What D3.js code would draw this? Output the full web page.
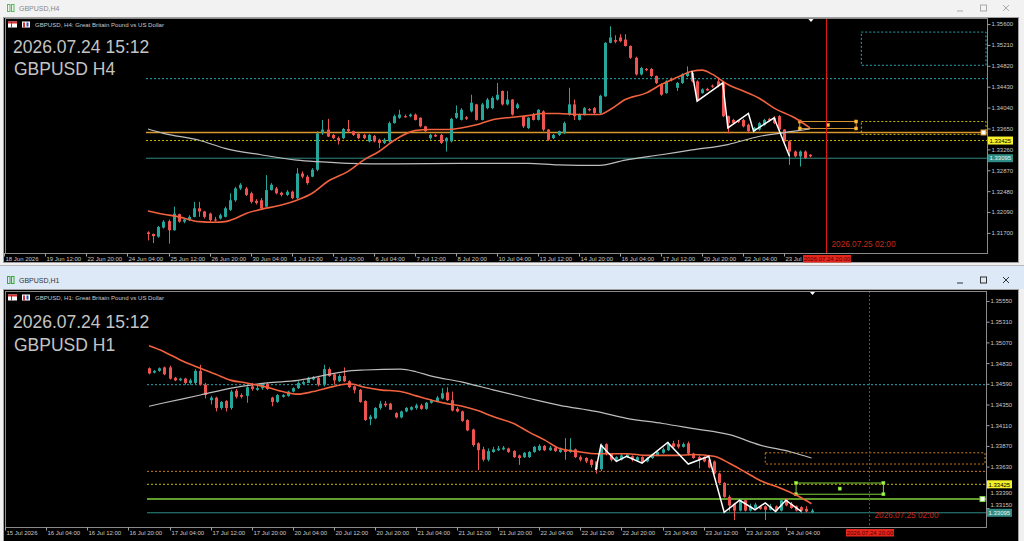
<!DOCTYPE html>
<html>
<head>
<meta charset="utf-8">
<script src="https://cdn.jsdelivr.net/npm/d3@7"></script>
<style>
  body { margin: 0; background: #f0f0f0; overflow: hidden; }
  svg { display: block; }
</style>
</head>
<body>
<svg id="chart" width="1024" height="541"></svg>
<script>
// ---------- H4 chart (upper window) ----------
var h4Open = [1.3171,1.3168,1.3163,1.3180,1.3192,1.3175,1.3205,1.3191,1.3194,1.3200,
  1.3216,1.3210,1.3206,1.3195,1.3197,1.3200,1.3213,1.3231,1.3253,1.3253,
  1.3244,1.3230,1.3231,1.3219,1.3250,1.3253,1.3245,1.3241,1.3247,1.3235,
  1.3281,1.3275,1.3275,1.3288,1.3356,1.3363,1.3353,1.3347,1.3347,1.3364,
  1.3360,1.3355,1.3353,1.3341,1.3351,1.3344,1.3338,1.3341,1.3375,1.3385,
  1.3388,1.3388,1.3391,1.3385,1.3369,1.3347,1.3353,1.3353,1.3341,1.3341,
  1.3385,1.3381,1.3386,1.3397,1.3410,1.3381,1.3403,1.3403,1.3419,1.3435,
  1.3410,1.3419,1.3403,1.3388,1.3366,1.3391,1.3381,1.3397,1.3363,1.3347,
  1.3353,1.3356,1.3391,1.3410,1.3381,1.3391,1.3401,1.3403,1.3394,1.3425,
  1.3525,1.3530,1.3535,1.3531,1.3519,1.3497,1.3466,1.3476,1.3476,1.3463,
  1.3447,1.3431,1.3458,1.3441,1.3450,1.3463,1.3469,1.3453,1.3431,1.3439,
  1.3445,1.3453,1.3450,1.3388,1.3381,1.3380,1.3381,1.3372,1.3360,1.3363,
  1.3372,1.3383,1.3385,1.3388,1.3363,1.3341,1.3322,1.3313,1.3322,1.3316];
var h4High = [1.3173,1.3169,1.3183,1.3194,1.3195,1.3219,1.3206,1.3197,1.3203,1.3228,
  1.3228,1.3211,1.3208,1.3200,1.3206,1.3219,1.3244,1.3256,1.3263,1.3256,
  1.3247,1.3233,1.3235,1.3278,1.3263,1.3256,1.3247,1.3250,1.3249,1.3291,
  1.3285,1.3278,1.3291,1.3360,1.3381,1.3383,1.3355,1.3350,1.3366,1.3381,
  1.3361,1.3356,1.3355,1.3355,1.3353,1.3346,1.3347,1.3378,1.3391,1.3400,
  1.3391,1.3393,1.3393,1.3386,1.3370,1.3355,1.3355,1.3355,1.3349,1.3385,
  1.3408,1.3403,1.3388,1.3428,1.3411,1.3413,1.3422,1.3425,1.3450,1.3436,
  1.3435,1.3420,1.3413,1.3389,1.3386,1.3394,1.3401,1.3399,1.3364,1.3355,
  1.3361,1.3378,1.3441,1.3419,1.3393,1.3405,1.3403,1.3405,1.3428,1.3526,
  1.3556,1.3539,1.3541,1.3541,1.3520,1.3499,1.3480,1.3478,1.3478,1.3464,
  1.3449,1.3455,1.3460,1.3452,1.3468,1.3481,1.3472,1.3455,1.3440,1.3441,
  1.3447,1.3460,1.3452,1.3389,1.3383,1.3381,1.3383,1.3374,1.3368,1.3377,
  1.3383,1.3385,1.3388,1.3390,1.3364,1.3343,1.3324,1.3324,1.3324,1.3317];
var h4Low = [1.3156,1.3151,1.3161,1.3178,1.3150,1.3174,1.3189,1.3188,1.3192,1.3199,
  1.3200,1.3197,1.3191,1.3191,1.3195,1.3199,1.3211,1.3228,1.3250,1.3239,
  1.3225,1.3223,1.3213,1.3218,1.3249,1.3242,1.3238,1.3239,1.3233,1.3233,
  1.3272,1.3260,1.3274,1.3285,1.3353,1.3349,1.3345,1.3335,1.3345,1.3358,
  1.3351,1.3345,1.3345,1.3339,1.3339,1.3328,1.3336,1.3339,1.3374,1.3383,
  1.3385,1.3386,1.3380,1.3367,1.3356,1.3344,1.3349,1.3336,1.3322,1.3339,
  1.3383,1.3380,1.3381,1.3395,1.3380,1.3380,1.3401,1.3401,1.3417,1.3408,
  1.3408,1.3389,1.3401,1.3366,1.3364,1.3380,1.3380,1.3360,1.3342,1.3345,
  1.3351,1.3355,1.3389,1.3381,1.3380,1.3389,1.3397,1.3392,1.3392,1.3424,
  1.3524,1.3524,1.3526,1.3518,1.3495,1.3464,1.3464,1.3472,1.3461,1.3448,
  1.3426,1.3430,1.3453,1.3435,1.3448,1.3461,1.3451,1.3417,1.3430,1.3435,
  1.3441,1.3442,1.3386,1.3356,1.3373,1.3375,1.3367,1.3358,1.3358,1.3361,
  1.3370,1.3378,1.3373,1.3361,1.3339,1.3297,1.3311,1.3294,1.3308,1.3311];
var h4Close = [1.3168,1.3164,1.3181,1.3191,1.3175,1.3206,1.3191,1.3195,1.3200,1.3216,
  1.3210,1.3200,1.3194,1.3194,1.3203,1.3216,1.3231,1.3253,1.3260,1.3241,
  1.3228,1.3226,1.3216,1.3250,1.3260,1.3244,1.3241,1.3247,1.3235,1.3281,
  1.3275,1.3263,1.3288,1.3356,1.3363,1.3350,1.3347,1.3343,1.3364,1.3360,
  1.3353,1.3347,1.3347,1.3353,1.3341,1.3338,1.3344,1.3375,1.3388,1.3391,
  1.3386,1.3391,1.3381,1.3369,1.3360,1.3353,1.3350,1.3338,1.3347,1.3383,
  1.3394,1.3400,1.3383,1.3413,1.3381,1.3410,1.3419,1.3422,1.3428,1.3410,
  1.3419,1.3391,1.3410,1.3369,1.3385,1.3381,1.3400,1.3363,1.3344,1.3353,
  1.3360,1.3375,1.3410,1.3388,1.3391,1.3403,1.3399,1.3394,1.3426,1.3525,
  1.3535,1.3527,1.3528,1.3519,1.3497,1.3466,1.3478,1.3474,1.3463,1.3450,
  1.3428,1.3453,1.3455,1.3450,1.3466,1.3469,1.3453,1.3419,1.3438,1.3436,
  1.3443,1.3444,1.3388,1.3375,1.3375,1.3377,1.3369,1.3360,1.3366,1.3375,
  1.3381,1.3380,1.3375,1.3363,1.3341,1.3322,1.3313,1.3322,1.3310,1.3313];

// moving averages read at a few bars
var h4FastMaBars = [0,3,6,10,13,15,17,19,22,26,29,32,35,39,42,45,48,52,55,58,61,64,67,71,74,77,80,84,88,90,93,97,100,103,106,108,110,113,116,119,122,126,129];
var h4FastMa = [1.3211,1.3205,1.3200,1.3191,1.3190,1.3191,1.3197,1.3206,1.3214,1.3222,
  1.3231,1.3244,1.3266,1.3285,1.3306,1.3322,1.3343,1.3361,1.3363,1.3363,
  1.3366,1.3372,1.3381,1.3386,1.3389,1.3393,1.3393,1.3391,1.3391,1.3400,
  1.3419,1.3431,1.3447,1.3460,1.3472,1.3474,1.3466,1.3447,1.3435,1.3422,
  1.3403,1.3385,1.3366];
var h4SlowMaBars = [0,3,10,15,22,29,33,39,48,61,74,80,88,93,100,106,113,119,126,129];
var h4SlowMa = [1.3364,1.3356,1.3343,1.3328,1.3316,1.3306,1.3303,1.3300,1.3299,1.3300,
  1.3300,1.3297,1.3296,1.3306,1.3316,1.3325,1.3335,1.3350,1.3360,1.3364];
var h4ZigBars = [106,107,112,113,117,118,122,125];
var h4Zig = [1.3472,1.3416,1.3450,1.3366,1.3393,1.3360,1.3385,1.3313];

var h4PriceTicks = [1.35600,1.35210,1.34820,1.34430,1.34040,1.33650,1.33260,1.32870,1.32480,1.32090,1.31700];
var h4TimeLabels = ["18 Jun 2026","19 Jun 12:00","22 Jun 20:00","24 Jun 04:00","25 Jun 12:00","26 Jun 20:00",
  "30 Jun 04:00","1 Jul 12:00","2 Jul 20:00","6 Jul 04:00","7 Jul 12:00","8 Jul 20:00","10 Jul 04:00",
  "13 Jul 12:00","14 Jul 20:00","16 Jul 04:00","17 Jul 12:00","20 Jul 20:00","22 Jul 04:00","23 Jul 12:00"];

// ---------- H1 chart (lower window) ----------
var h1Open = [1.3477,1.3472,1.3474,1.3478,1.3478,1.3466,1.3463,1.3465,1.3460,1.3460,
  1.3474,1.3458,1.3440,1.3443,1.3431,1.3439,1.3431,1.3451,1.3446,1.3445,
  1.3456,1.3452,1.3454,1.3459,1.3443,1.3438,1.3444,1.3445,1.3450,1.3454,
  1.3459,1.3460,1.3464,1.3466,1.3458,1.3476,1.3470,1.3462,1.3468,1.3462,
  1.3456,1.3452,1.3439,1.3418,1.3419,1.3431,1.3436,1.3436,1.3425,1.3420,
  1.3427,1.3429,1.3431,1.3434,1.3430,1.3437,1.3439,1.3442,1.3449,1.3440,
  1.3430,1.3427,1.3417,1.3406,1.3390,1.3383,1.3371,1.3380,1.3382,1.3383,
  1.3384,1.3381,1.3376,1.3374,1.3374,1.3380,1.3382,1.3387,1.3382,1.3385,
  1.3380,1.3383,1.3380,1.3383,1.3374,1.3373,1.3371,1.3369,1.3360,1.3389,
  1.3378,1.3371,1.3371,1.3374,1.3375,1.3370,1.3374,1.3369,1.3373,1.3376,
  1.3379,1.3382,1.3390,1.3389,1.3386,1.3390,1.3378,1.3374,1.3374,1.3371,
  1.3369,1.3355,1.3344,1.3328,1.3320,1.3312,1.3324,1.3312,1.3315,1.3317,
  1.3317,1.3313,1.3317,1.3312,1.3325,1.3320,1.3317,1.3316,1.3314,1.3310];
var h1High = [1.3478,1.3475,1.3478,1.3479,1.3480,1.3467,1.3466,1.3466,1.3465,1.3476,
  1.3481,1.3460,1.3445,1.3444,1.3439,1.3440,1.3452,1.3453,1.3448,1.3456,
  1.3460,1.3458,1.3460,1.3460,1.3444,1.3447,1.3447,1.3451,1.3455,1.3462,
  1.3463,1.3467,1.3468,1.3467,1.3481,1.3478,1.3471,1.3470,1.3478,1.3463,
  1.3457,1.3453,1.3440,1.3423,1.3432,1.3439,1.3439,1.3437,1.3426,1.3428,
  1.3432,1.3433,1.3436,1.3436,1.3438,1.3441,1.3445,1.3454,1.3455,1.3450,
  1.3432,1.3428,1.3418,1.3407,1.3391,1.3386,1.3384,1.3386,1.3387,1.3387,
  1.3385,1.3382,1.3377,1.3380,1.3381,1.3387,1.3389,1.3388,1.3387,1.3386,
  1.3385,1.3396,1.3396,1.3384,1.3376,1.3374,1.3372,1.3369,1.3390,1.3390,
  1.3378,1.3375,1.3378,1.3378,1.3376,1.3375,1.3375,1.3374,1.3378,1.3381,
  1.3385,1.3392,1.3393,1.3394,1.3391,1.3392,1.3379,1.3376,1.3375,1.3372,
  1.3370,1.3356,1.3345,1.3330,1.3321,1.3325,1.3325,1.3320,1.3321,1.3318,
  1.3318,1.3320,1.3318,1.3325,1.3326,1.3322,1.3318,1.3317,1.3317,1.3314];
var h1Low = [1.3470,1.3471,1.3473,1.3469,1.3464,1.3462,1.3462,1.3458,1.3458,1.3458,
  1.3457,1.3442,1.3435,1.3427,1.3429,1.3427,1.3429,1.3442,1.3442,1.3437,
  1.3451,1.3451,1.3452,1.3452,1.3433,1.3437,1.3443,1.3444,1.3449,1.3453,
  1.3458,1.3460,1.3463,1.3456,1.3456,1.3467,1.3458,1.3461,1.3461,1.3454,
  1.3448,1.3437,1.3416,1.3411,1.3418,1.3429,1.3432,1.3429,1.3419,1.3419,
  1.3426,1.3428,1.3429,1.3429,1.3429,1.3436,1.3438,1.3441,1.3439,1.3427,
  1.3426,1.3415,1.3404,1.3386,1.3359,1.3369,1.3369,1.3379,1.3381,1.3382,
  1.3379,1.3373,1.3365,1.3373,1.3373,1.3379,1.3381,1.3381,1.3381,1.3380,
  1.3379,1.3371,1.3379,1.3373,1.3369,1.3367,1.3362,1.3355,1.3358,1.3376,
  1.3369,1.3369,1.3370,1.3373,1.3369,1.3369,1.3367,1.3368,1.3372,1.3375,
  1.3378,1.3381,1.3385,1.3384,1.3385,1.3376,1.3372,1.3361,1.3368,1.3361,
  1.3354,1.3342,1.3327,1.3311,1.3301,1.3311,1.3311,1.3311,1.3314,1.3313,
  1.3301,1.3312,1.3311,1.3311,1.3317,1.3314,1.3311,1.3309,1.3310,1.3309];
var h1Close = [1.3471,1.3474,1.3477,1.3470,1.3465,1.3463,1.3465,1.3460,1.3463,1.3474,
  1.3458,1.3446,1.3443,1.3431,1.3438,1.3431,1.3450,1.3444,1.3444,1.3455,
  1.3453,1.3454,1.3459,1.3453,1.3438,1.3446,1.3446,1.3450,1.3454,1.3460,
  1.3461,1.3466,1.3467,1.3458,1.3476,1.3468,1.3463,1.3468,1.3462,1.3455,
  1.3452,1.3438,1.3417,1.3421,1.3431,1.3436,1.3434,1.3429,1.3420,1.3427,
  1.3431,1.3432,1.3434,1.3430,1.3437,1.3440,1.3443,1.3448,1.3440,1.3428,
  1.3427,1.3416,1.3405,1.3388,1.3382,1.3371,1.3381,1.3383,1.3384,1.3385,
  1.3380,1.3374,1.3373,1.3379,1.3380,1.3386,1.3387,1.3382,1.3385,1.3381,
  1.3383,1.3380,1.3383,1.3374,1.3371,1.3369,1.3365,1.3360,1.3388,1.3378,
  1.3371,1.3374,1.3376,1.3377,1.3371,1.3374,1.3368,1.3373,1.3377,1.3380,
  1.3383,1.3390,1.3386,1.3386,1.3389,1.3378,1.3373,1.3371,1.3369,1.3362,
  1.3355,1.3344,1.3328,1.3318,1.3312,1.3324,1.3312,1.3317,1.3319,1.3314,
  1.3313,1.3317,1.3312,1.3324,1.3318,1.3315,1.3312,1.3312,1.3311,1.3312];

var h1FastMaBars = [0,3,6,10,13,16,19,23,26,29,32,36,39,42,45,49,52,55,58,61,64,67,71,74,77,80,84,87,90,93,97,100,103,106,110,113,116,119,123,126,129];
var h1FastMa = [1.3503,1.3496,1.3487,1.3477,1.3470,1.3463,1.3460,1.3455,1.3450,1.3447,
  1.3450,1.3456,1.3459,1.3455,1.3452,1.3450,1.3445,1.3440,1.3436,1.3433,
  1.3428,1.3421,1.3413,1.3403,1.3394,1.3384,1.3380,1.3378,1.3378,1.3378,
  1.3376,1.3376,1.3376,1.3377,1.3375,1.3367,1.3357,1.3347,1.3338,1.3330,
  1.3320];
var h1SlowMaBars = [0,3,10,16,23,29,36,39,42,49,52,55,61,67,74,80,87,93,100,106,113,119,125,129];
var h1SlowMa = [1.3433,1.3437,1.3446,1.3454,1.3460,1.3463,1.3471,1.3474,1.3475,1.3476,
  1.3473,1.3468,1.3461,1.3452,1.3442,1.3434,1.3427,1.3419,1.3413,1.3407,
  1.3400,1.3388,1.3380,1.3373];
var h1ZigBars = [87,88,91,93,96,101,105,109,112,115,118,120,122,124,127];
var h1Zig = [1.3359,1.3388,1.3369,1.3375,1.3367,1.3391,1.3366,1.3375,1.3310,1.3324,1.3313,1.3321,1.3311,1.3324,1.3311];

var h1PriceTicks = [1.35550,1.35310,1.35070,1.34830,1.34590,1.34350,1.34110,1.33870,1.33630,1.33390,1.33150];
var h1TimeLabels = ["15 Jul 2026","16 Jul 04:00","16 Jul 12:00","16 Jul 20:00","17 Jul 04:00","17 Jul 12:00",
  "17 Jul 20:00","20 Jul 04:00","20 Jul 12:00","20 Jul 20:00","21 Jul 04:00","21 Jul 12:00","21 Jul 20:00",
  "22 Jul 04:00","22 Jul 12:00","22 Jul 20:00","23 Jul 04:00","23 Jul 12:00","23 Jul 20:00","24 Jul 04:00"];

// price levels drawn on the charts
var lvlCyan = 1.3458, lvlOrange = 1.33575, lvlYellow = 1.33425, lvlGreen = 1.33254, lvlTeal = 1.33095;

// rectangles: from bar (to bar or open to the right), upper and lower price
var h4Zones = [
  { from: 139, to: null, hi: 1.3545, lo: 1.3483, color: "#2aa6ae", dash: "2,2", handles: false },
  { from: 127, to: 138, hi: 1.3378, lo: 1.3365, color: "#d9962c", dash: null, handles: true },
  { from: 139, to: null, hi: 1.3378, lo: 1.3354, color: "#c9b800", dash: "2,2", handles: false }
];
var h1Zones = [
  { from: 120, to: null, hi: 1.3379, lo: 1.3366, color: "#c97d22", dash: "2,2", handles: false },
  { from: 126, to: 143, hi: 1.3344, lo: 1.3331, color: "#7fd23c", dash: null, handles: true }
];
var h4Levels = [
  { p: lvlCyan, color: "#2aa6ae", dash: "2,2", w: 1, handle: false },
  { p: lvlOrange, color: "#d9962c", dash: null, w: 1.5, handle: true },
  { p: lvlYellow, color: "#c9b800", dash: "2,2", w: 1, handle: false },
  { p: lvlTeal, color: "#2f8c85", dash: null, w: 1, handle: false }
];
var h1Levels = [
  { p: lvlCyan, color: "#2aa6ae", dash: "2,2", w: 1, handle: false },
  { p: lvlOrange, color: "#c97d22", dash: "2,2", w: 1, handle: false },
  { p: lvlYellow, color: "#c9b800", dash: "2,2", w: 1, handle: false },
  { p: lvlGreen, color: "#7fd23c", dash: null, w: 1.5, handle: true },
  { p: lvlTeal, color: "#2f8c85", dash: null, w: 1, handle: false }
];

var FONT = "'Liberation Sans', Arial, sans-serif";
var bull = "#26a69a", bear = "#ef5350";

var svg = d3.select("#chart");
svg.append("rect").attr("width", 1024).attr("height", 541).attr("fill", "#f0f0f0");

//window frame with title bar
function drawWindow(L, title, active) {
  var w = svg.append("g");
  w.append("rect").attr("x", 0).attr("y", L.winTop).attr("width", 1024).attr("height", L.panelTop - L.winTop)
    .attr("fill", active ? "#dde9f6" : "#f2f2f2");
  var ic = active ? "#3aa83a" : "#5cb85c";
  w.append("rect").attr("x", 7.5).attr("y", L.titleY - 3.5).attr("width", 2.5).attr("height", 7).attr("fill", "none").attr("stroke", ic);
  w.append("rect").attr("x", 11.5).attr("y", L.titleY - 3.5).attr("width", 2.5).attr("height", 7).attr("fill", "none").attr("stroke", ic);
  w.append("text").attr("x", 19).attr("y", L.titleY + 2.5).text(title)
    .attr("font-family", FONT).attr("font-size", "7px").attr("fill", active ? "#333" : "#888");
  var bc = active ? "#333" : "#aaa";
  w.append("line").attr("x1", 957).attr("x2", 963).attr("y1", L.titleY + 3).attr("y2", L.titleY + 3).attr("stroke", bc);
  w.append("rect").attr("x", 980.5).attr("y", L.titleY - 3).attr("width", 6).attr("height", 6).attr("fill", "none").attr("stroke", bc);
  w.append("path").attr("d", "M1003," + (L.titleY - 3) + "L1009," + (L.titleY + 3) + "M1009," + (L.titleY - 3) + "L1003," + (L.titleY + 3))
    .attr("stroke", bc);
  w.append("rect").attr("x", 3.5).attr("y", L.panelTop + 0.5).attr("width", 1015).attr("height", L.panelBottom - L.panelTop - 1)
    .attr("fill", "#000").attr("stroke", "#a0a0a0");
}

function drawChart(c) {
  var L = c.layout;
  var g = svg.append("g");
  var n = c.open.length;
  var x = d3.scaleLinear().domain([0, n - 1]).range([L.barX0, L.barX1]);
  var y = d3.scaleLinear().domain([L.pMin, L.pMax]).range([L.plotB, L.plotT]);
  var bars = d3.range(n);
  var xs = x(0) - 2;

  var clipId = "clip" + c.name;
  g.append("clipPath").attr("id", clipId).append("rect")
    .attr("x", L.plotL).attr("y", L.plotT).attr("width", L.plotR - L.plotL).attr("height", L.plotB - L.plotT);
  var pg = g.append("g").attr("clip-path", "url(#" + clipId + ")");

  // zones
  c.zones.forEach(function (z) {
    var x1 = x(z.from), x2 = z.to === null ? L.plotR - 1 : x(z.to);
    pg.append("rect").attr("x", x1).attr("y", y(z.hi)).attr("width", x2 - x1).attr("height", y(z.lo) - y(z.hi))
      .attr("fill", "none").attr("stroke", z.color).attr("stroke-width", 1).attr("stroke-dasharray", z.dash);
    if (z.handles) {
      var pts = [[x1, y(z.hi)], [x2, y(z.hi)], [x1, y(z.lo)], [x2, y(z.lo)], [(x1 + x2) / 2, (y(z.hi) + y(z.lo)) / 2]];
      pg.selectAll(null).data(pts).join("rect")
        .attr("x", function (d) { return d[0] - 1.5; }).attr("y", function (d) { return d[1] - 1.5; })
        .attr("width", 3).attr("height", 3)
        .attr("fill", d3.color(z.color).brighter(0.8)).attr("stroke", z.color).attr("stroke-width", 0.6);
    }
  });

  // horizontal levels
  c.levels.forEach(function (lv) {
    pg.append("line").attr("x1", xs).attr("x2", L.plotR).attr("y1", y(lv.p)).attr("y2", y(lv.p))
      .attr("stroke", lv.color).attr("stroke-width", lv.w).attr("stroke-dasharray", lv.dash);
    if (lv.handle) {
      pg.append("rect").attr("x", L.plotR - 6).attr("y", y(lv.p) - 2.5).attr("width", 5).attr("height", 5)
        .attr("fill", "#fff").attr("stroke", lv.color);
    }
  });

  // candles
  function col(i) { return c.close[i] >= c.open[i] ? bull : bear; }
  pg.selectAll("line.wick").data(bars).join("line").attr("class", "wick")
    .attr("x1", function (i) { return Math.round(x(i)) + 0.5; })
    .attr("x2", function (i) { return Math.round(x(i)) + 0.5; })
    .attr("y1", function (i) { return y(c.high[i]); })
    .attr("y2", function (i) { return y(c.low[i]); })
    .attr("stroke", col).attr("stroke-width", 1);
  pg.selectAll("rect.body").data(bars).join("rect").attr("class", "body")
    .attr("x", function (i) { return Math.round(x(i)) - 1; })
    .attr("width", 3)
    .attr("y", function (i) { return y(Math.max(c.open[i], c.close[i])); })
    .attr("height", function (i) { return Math.max(1, Math.abs(y(c.open[i]) - y(c.close[i]))); })
    .attr("fill", col);

  // moving averages
  var line = d3.line().x(function (d) { return x(d[0]); }).y(function (d) { return y(d[1]); }).curve(d3.curveMonotoneX);
  pg.append("path").attr("d", line(d3.zip(c.slowBars, c.slow))).attr("fill", "none")
    .attr("stroke", "#bdbdbd").attr("stroke-width", 1.2);
  pg.append("path").attr("d", line(d3.zip(c.fastBars, c.fast))).attr("fill", "none")
    .attr("stroke", "#f2623f").attr("stroke-width", 1.6);

  // zigzag
  var zl = d3.line().x(function (d) { return x(d[0]); }).y(function (d) { return y(d[1]); });
  pg.append("path").attr("d", zl(d3.zip(c.zigBars, c.zig))).attr("fill", "none")
    .attr("stroke", "#ffffff").attr("stroke-width", 1.5);

  // vertical time line
  var vx = Math.round(x(L.vBar)) + 1.5;
  pg.append("line").attr("x1", vx).attr("x2", vx).attr("y1", L.plotT).attr("y2", L.plotB)
    .attr("stroke", "#e01a10").attr("stroke-width", 1).attr("stroke-dasharray", L.vDash)
    .attr("shape-rendering", "crispEdges");
  g.append("text").attr("x", vx + 5).attr("y", L.redTextY).text("2026.07.25 02:00")
    .attr("font-family", FONT).attr("font-size", "9.5px").attr("fill", "#c8281c")
    .attr("textLength", 64).attr("lengthAdjust", "spacingAndGlyphs");

  // shift marker
  var sx = x(n - 1) + 1;
  g.append("path").attr("d", "M" + (sx - 3) + "," + (L.plotT + 0.5) + "L" + (sx + 3) + "," + (L.plotT + 0.5) + "L" + sx + "," + (L.plotT + 4) + "Z")
    .attr("fill", "#fff");

  // frame
  g.append("rect").attr("x", L.plotL + 0.5).attr("y", L.plotT + 0.5).attr("width", L.plotR - L.plotL).attr("height", L.plotB - L.plotT)
    .attr("fill", "none").attr("stroke", "#8a8a8a");

  // price axis
  var ay = g.append("g").attr("transform", "translate(" + (L.plotR + 0.5) + ",0)")
    .call(d3.axisRight(y).tickValues(c.ticks).tickSize(3).tickPadding(1).tickFormat(d3.format(".5f")));
  ay.select(".domain").remove();
  ay.attr("font-family", FONT).attr("font-size", 6);
  ay.selectAll("line").attr("stroke", "#a0a0a0");
  ay.selectAll("text").attr("fill", "#c8c8c8");

  // highlighted price labels; tick texts underneath are nudged aside
  var marks = [[lvlYellow, "#f4f02a", "#000"], [lvlTeal, "#2f8c85", "#e8f4f2"]];
  ay.selectAll(".tick text").attr("y", function (t) {
    var off = 0;
    marks.forEach(function (h) {
      var d = y(t) - y(h[0]);
      if (Math.abs(d) < 8) off = d < 0 ? -8.5 - d : 8.5 - d;
    });
    return off;
  });
  marks.forEach(function (h) {
    var yy = y(h[0]);
    g.append("rect").attr("x", L.plotR + 1).attr("y", yy - 4).attr("width", 25).attr("height", 8).attr("fill", h[1]);
    g.append("text").attr("x", L.plotR + 2.5).attr("y", yy + 2.2).text(d3.format(".5f")(h[0]))
      .attr("font-family", FONT).attr("font-size", "6px").attr("fill", h[2]);
  });

  // time axis; a label running into the time marker shows only what fits before it
  var boxL = vx - 23.5, boxW = 48;
  c.times.forEach(function (t, k) {
    var tx = Math.round(x(L.firstLabelBar + 8 * k)) + 0.5;
    g.append("line").attr("x1", tx).attr("x2", tx).attr("y1", L.plotB).attr("y2", L.plotB + 3.5).attr("stroke", "#a0a0a0");
    var lab = g.append("text").attr("x", tx + 1).attr("y", L.plotB + 8).text(t)
      .attr("font-family", FONT).attr("font-size", "6px").attr("fill", "#c8c8c8");
    if (tx < boxL) {
      var s = t;
      while (s.length > 0 && tx + 1 + lab.node().getComputedTextLength() > boxL - 0.5) {
        s = s.slice(0, -1).trim();
        lab.text(s);
      }
    }
  });
  g.append("rect").attr("x", boxL).attr("y", L.plotB + 2).attr("width", boxW).attr("height", 7.5).attr("fill", "#e3261c");
  g.append("text").attr("x", boxL + boxW / 2).attr("y", L.plotB + 8).attr("text-anchor", "middle").text("2026.07.24 20:00")
    .attr("font-family", FONT).attr("font-size", "6px").attr("fill", "#5a0000");

  // header
  g.append("rect").attr("x", 8).attr("y", L.headerY - 5.5).attr("width", 9).attr("height", 6).attr("fill", "#fff");
  g.append("rect").attr("x", 8).attr("y", L.headerY - 5.5).attr("width", 9).attr("height", 2).attr("fill", "#d83030");
  g.append("rect").attr("x", 11).attr("y", L.headerY - 5.5).attr("width", 1).attr("height", 6).attr("fill", "#3050c0");
  g.append("rect").attr("x", 22).attr("y", L.headerY - 5.5).attr("width", 8).attr("height", 6).attr("fill", "#fff");
  g.append("rect").attr("x", 23).attr("y", L.headerY - 4.5).attr("width", 2).attr("height", 5).attr("fill", "#d83030");
  g.append("rect").attr("x", 26.5).attr("y", L.headerY - 4.5).attr("width", 2).attr("height", 4).attr("fill", "#2a50c8");
  g.append("text").attr("x", 35).attr("y", L.headerY).text(c.header)
    .attr("font-family", FONT).attr("font-size", "6px").attr("fill", "#c8c8c8")
    .attr("textLength", 129).attr("lengthAdjust", "spacingAndGlyphs");
  g.append("text").attr("x", 13).attr("y", L.bigY1).text("2026.07.24 15:12")
    .attr("font-family", FONT).attr("font-size", "17.5px").attr("fill", "#c4c4c4");
  g.append("text").attr("x", 14).attr("y", L.bigY2).text(c.bigTitle)
    .attr("font-family", FONT).attr("font-size", "17.5px").attr("fill", "#c4c4c4");
}

var topLayout = { winTop: 0, titleY: 8, panelTop: 17, panelBottom: 263,
  plotL: 5, plotR: 987, plotT: 18, plotB: 253, barX0: 148, barX1: 810,
  pMin: 1.31325, pMax: 1.35713, vBar: 132, vDash: null, redTextY: 246.5,
  firstLabelBar: -28, headerY: 27, bigY1: 53, bigY2: 75 };
var bottomLayout = { winTop: 266, titleY: 280, panelTop: 289, panelBottom: 542,
  plotL: 5, plotR: 986, plotT: 291, plotB: 527, barX0: 149, barX1: 811.5,
  pMin: 1.32930, pMax: 1.35666, vBar: 140, vDash: "2,2", redTextY: 518,
  firstLabelBar: -28, headerY: 300, bigY1: 328, bigY2: 351 };

drawWindow(topLayout, "GBPUSD,H4", false);
drawWindow(bottomLayout, "GBPUSD,H1", true);
svg.append("line").attr("x1", 0).attr("x2", 1024).attr("y1", 265.5).attr("y2", 265.5).attr("stroke", "#b8b8b8");

drawChart({ name: "H4", open: h4Open, high: h4High, low: h4Low, close: h4Close,
  fastBars: h4FastMaBars, fast: h4FastMa, slowBars: h4SlowMaBars, slow: h4SlowMa,
  zigBars: h4ZigBars, zig: h4Zig, ticks: h4PriceTicks, times: h4TimeLabels,
  zones: h4Zones, levels: h4Levels, layout: topLayout,
  header: "GBPUSD, H4:  Great Britain Pound vs US Dollar", bigTitle: "GBPUSD H4" });
drawChart({ name: "H1", open: h1Open, high: h1High, low: h1Low, close: h1Close,
  fastBars: h1FastMaBars, fast: h1FastMa, slowBars: h1SlowMaBars, slow: h1SlowMa,
  zigBars: h1ZigBars, zig: h1Zig, ticks: h1PriceTicks, times: h1TimeLabels,
  zones: h1Zones, levels: h1Levels, layout: bottomLayout,
  header: "GBPUSD, H1:  Great Britain Pound vs US Dollar", bigTitle: "GBPUSD H1" });
</script>
</body>
</html>
